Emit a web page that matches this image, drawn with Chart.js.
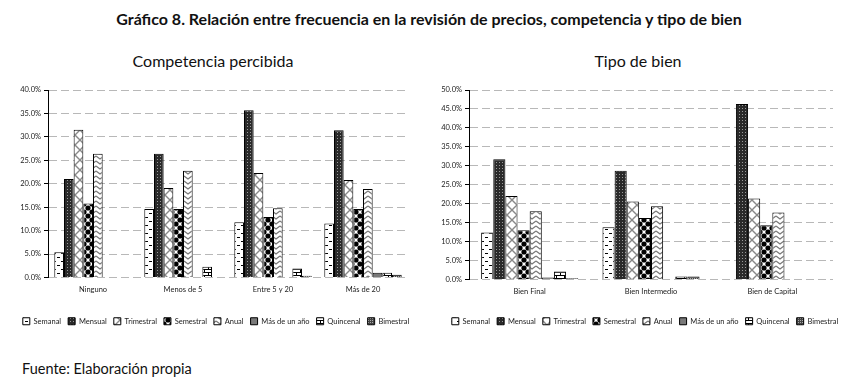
<!DOCTYPE html>
<html>
<head>
<meta charset="utf-8">
<script src="https://cdn.jsdelivr.net/npm/chart.js@4.4.1/dist/chart.umd.min.js"></script>
<style>
  body { margin: 0; background: #fff; width: 858px; height: 389px; position: relative; overflow: hidden; font-family: Lato, "Open Sans", sans-serif; color: #111; }
  .title { position: absolute; top: 9px; left: 0; width: 858px; text-align: center; font-weight: bold; font-size: 16px; }
  .sub { position: absolute; top: 51px; font-size: 16px; text-align: center; }
  .foot { position: absolute; left: 22px; top: 360px; font-size: 14.5px; }
  canvas { position: absolute; }
</style>
</head>
<body>
<div class="title">Gráfico 8. Relación entre frecuencia en la revisión de precios, competencia y tipo de bien</div>
<div class="sub" style="left:63px;width:300px;">Competencia percibida</div>
<div class="sub" style="left:488px;width:300px;">Tipo de bien</div>
<canvas id="compChart" width="432" height="260" style="left:0;top:80px;width:432px;height:260px;"></canvas>
<canvas id="tipoChart" width="426" height="260" style="left:432px;top:80px;width:426px;height:260px;"></canvas>
<div class="foot">Fuente: Elaboración propia</div>
<script>
const seriesNames = ['Semanal', 'Mensual', 'Trimestral', 'Semestral', 'Anual', 'Más de un año', 'Quincenal', 'Bimestral'];

const compCategories = ['Ninguno', 'Menos de 5', 'Entre 5 y 20', 'Más de 20'];
const compSemanal = [5.4, 14.6, 11.8, 11.5];
const compMensual = [21.0, 26.4, 35.7, 31.4];
const compTrimestral = [31.5, 19.1, 22.3, 20.8];
const compSemestral = [15.8, 14.6, 12.9, 14.6];
const compAnual = [26.4, 22.8, 14.8, 18.9];
const compMasAnio = [0, 0, 0, 1.0];
const compQuincenal = [0, 2.3, 1.9, 1.0];
const compBimestral = [0, 0, 0.4, 0.6];

const tipoCategories = ['Bien Final', 'Bien Intermedio', 'Bien de Capital'];
const tipoSemanal = [12.4, 13.8, 0];
const tipoMensual = [31.7, 28.7, 46.3];
const tipoTrimestral = [22.0, 20.6, 21.4];
const tipoSemestral = [13.0, 16.2, 14.3];
const tipoAnual = [18.0, 19.3, 17.7];
const tipoMasAnio = [0.5, 0, 0];
const tipoQuincenal = [2.1, 0.8, 0];
const tipoBimestral = [0.3, 0.8, 0];

function makePattern(w, h, draw) {
  const c = document.createElement('canvas');
  c.width = w;
  c.height = h;
  const g = c.getContext('2d');
  g.fillStyle = '#fff';
  g.fillRect(0, 0, w, h);
  draw(g);
  return g.createPattern(c, 'repeat');
}

const patterns = [
  // semanal: short dashes
  makePattern(8, 8, g => {
    g.fillStyle = '#000';
    g.fillRect(1, 1, 3, 1);
    g.fillRect(5, 5, 3, 1);
  }),
  // mensual: dense dark grid
  makePattern(3, 3, g => {
    g.fillStyle = '#2a2a2a';
    g.fillRect(0, 0, 3, 3);
    g.fillStyle = '#999';
    g.fillRect(1, 1, 1, 1);
  }),
  // trimestral: diagonal cross
  makePattern(10, 10, g => {
    g.strokeStyle = '#888';
    g.lineWidth = 1.4;
    g.beginPath();
    g.moveTo(0, 0); g.lineTo(10, 10);
    g.moveTo(10, 0); g.lineTo(0, 10);
    g.stroke();
  }),
  // semestral: black dots
  makePattern(8, 8, g => {
    g.fillStyle = '#000';
    [[4, 4], [0, 0], [8, 0], [0, 8], [8, 8]].forEach(p => {
      g.beginPath();
      g.arc(p[0], p[1], 2.6, 0, Math.PI * 2);
      g.fill();
    });
  }),
  // anual: zigzag
  makePattern(8, 5, g => {
    g.strokeStyle = '#777';
    g.lineWidth = 1.2;
    g.beginPath();
    g.moveTo(0, 1); g.lineTo(4, 4); g.lineTo(8, 1);
    g.stroke();
  }),
  // mas de un año: gray
  makePattern(2, 2, g => {
    g.fillStyle = '#7a7a7a';
    g.fillRect(0, 0, 2, 2);
  }),
  // quincenal: bricks
  makePattern(8, 6, g => {
    g.fillStyle = '#000';
    g.fillRect(0, 0, 8, 1);
    g.fillRect(0, 3, 8, 1);
    g.fillRect(0, 0, 1, 3);
    g.fillRect(4, 3, 1, 3);
  }),
  // bimestral: dark checks
  makePattern(2, 2, g => {
    g.fillStyle = '#444';
    g.fillRect(0, 0, 2, 2);
    g.fillStyle = '#aaa';
    g.fillRect(0, 0, 1, 1);
  })
];

function buildDatasets(lists) {
  return lists.map((vals, i) => ({
    label: seriesNames[i],
    data: vals,
    backgroundColor: patterns[i],
    borderColor: '#000',
    borderWidth: 1
  }));
}

function drawChart(canvasId, categories, lists, yMax, catPct, axisWidth, rightSpace, xHeight, bottomPad) {
  new Chart(document.getElementById(canvasId), {
    type: 'bar',
    data: {
      labels: categories,
      datasets: buildDatasets(lists)
    },
    options: {
      responsive: false,
      animation: false,
      layout: { padding: { left: 0, right: 0, top: 10, bottom: bottomPad } },
      plugins: {
        tooltip: { enabled: false },
        legend: {
          position: 'bottom',
          labels: {
            boxWidth: 7,
            boxHeight: 7,
            padding: 7,
            color: '#222',
            font: { family: 'Lato', size: 7.5 }
          }
        }
      },
      datasets: { bar: { categoryPercentage: catPct, barPercentage: 1 } },
      scales: {
        x: {
          grid: { display: false },
          border: { display: false },
          ticks: { color: '#222', font: { family: 'Lato', size: 7.5 }, padding: 0 },
          afterFit: s => { s.height = xHeight; }
        },
        y: {
          min: 0,
          max: yMax,
          ticks: {
            stepSize: 5,
            color: '#222',
            font: { family: 'Lato', size: 7.5 },
            padding: 3,
            callback: v => v.toFixed(1) + '%'
          },
          grid: {
            color: '#b8b8b8',
            tickColor: '#000',
            tickLength: 4,
            tickBorderDash: []
          },
          border: { display: true, color: '#000', width: 1, dash: [8, 4] },
          afterFit: s => { s.width = axisWidth; }
        },
        // empty scale on the right, only reserves room
        spacer: {
          type: 'linear',
          position: 'right',
          ticks: { display: false },
          grid: { display: false, drawTicks: false },
          border: { display: false },
          afterFit: s => { s.width = rightSpace; }
        }
      }
    }
  });
}

drawChart('compChart', compCategories,
  [compSemanal, compMensual, compTrimestral, compSemestral, compAnual, compMasAnio, compQuincenal, compBimestral],
  40, 0.86, 48, 24, 33, 5);

drawChart('tipoChart', tipoCategories,
  [tipoSemanal, tipoMensual, tipoTrimestral, tipoSemestral, tipoAnual, tipoMasAnio, tipoQuincenal, tipoBimestral],
  50, 0.8, 37, 25, 31, 5);
</script>
</body>
</html>
